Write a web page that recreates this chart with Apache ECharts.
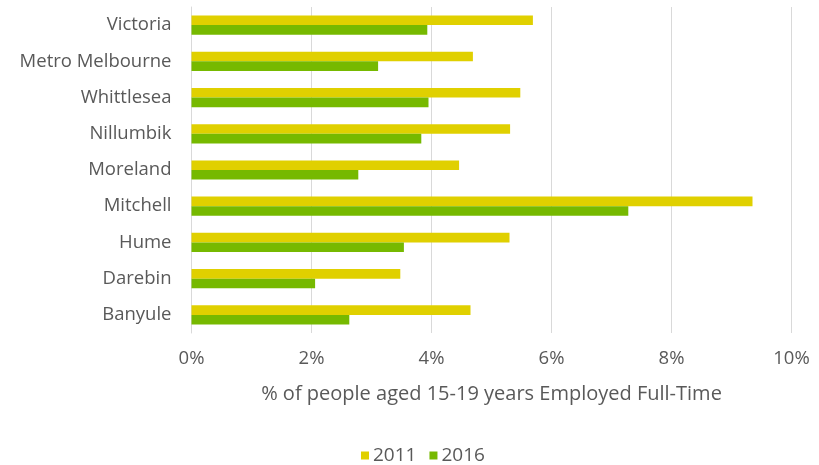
<!DOCTYPE html>
<html>
<head>
<meta charset="utf-8">
<script src="https://cdn.jsdelivr.net/npm/echarts@6/dist/echarts.min.js"></script>
<style>
  html, body { margin: 0; padding: 0; background: #ffffff; }
  #chart { width: 819px; height: 465px; }
</style>
</head>
<body>
<div id="chart"></div>
<script>
// Regions, listed top to bottom
const regions = ['Victoria', 'Metro Melbourne', 'Whittlesea', 'Nillumbik', 'Moreland', 'Mitchell', 'Hume', 'Darebin', 'Banyule'];
// Share of people aged 15-19 employed full-time (%)
const values2011 = [5.69, 4.69, 5.48, 5.31, 4.46, 9.35, 5.30, 3.48, 4.65];
const values2016 = [3.93, 3.11, 3.95, 3.83, 2.78, 7.28, 3.54, 2.06, 2.63];
const seriesNames = ['2011', '2016'];
const axisTitle = '% of people aged 15-19 years Employed Full-Time';

const textColor = '#595959';
const font = 'Open Sans';

const chart = echarts.init(document.getElementById('chart'), null, { renderer: 'canvas' });
chart.setOption({
  animation: false,
  color: ['#E0D000', '#76B900'],
  grid: { left: 191.5, right: 27.5, top: 7, bottom: 132, containLabel: false },
  legend: {
    data: seriesNames,
    left: 356,
    top: 441,
    itemWidth: 8,
    itemHeight: 8,
    itemGap: 13,
    icon: 'rect',
    textStyle: { color: textColor, fontSize: 19, fontFamily: font, padding: [0, 0, 0, -1] }
  },
  xAxis: {
    type: 'value',
    min: 0,
    max: 10,
    interval: 2,
    name: axisTitle,
    nameLocation: 'middle',
    nameGap: 51,
    nameTextStyle: { color: textColor, fontSize: 20, fontFamily: font },
    axisLine: { show: false },
    axisTick: { show: false },
    axisLabel: { color: textColor, fontSize: 18.5, fontFamily: font, margin: 16, formatter: v => v + '%' },
    splitLine: { show: true, lineStyle: { color: '#d9d9d9', width: 1 } }
  },
  yAxis: {
    type: 'category',
    data: regions,
    inverse: true,
    axisLine: { show: true, lineStyle: { color: '#d9d9d9' } },
    axisTick: { show: false },
    axisLabel: { color: textColor, fontSize: 18.5, fontFamily: font, margin: 20, padding: [3, 0, 0, 0] }
  },
  series: [
    { name: seriesNames[0], type: 'bar', data: values2011, barGap: '0%', barCategoryGap: '47%' },
    { name: seriesNames[1], type: 'bar', data: values2016, barGap: '0%', barCategoryGap: '47%' }
  ]
});
</script>
</body>
</html>
